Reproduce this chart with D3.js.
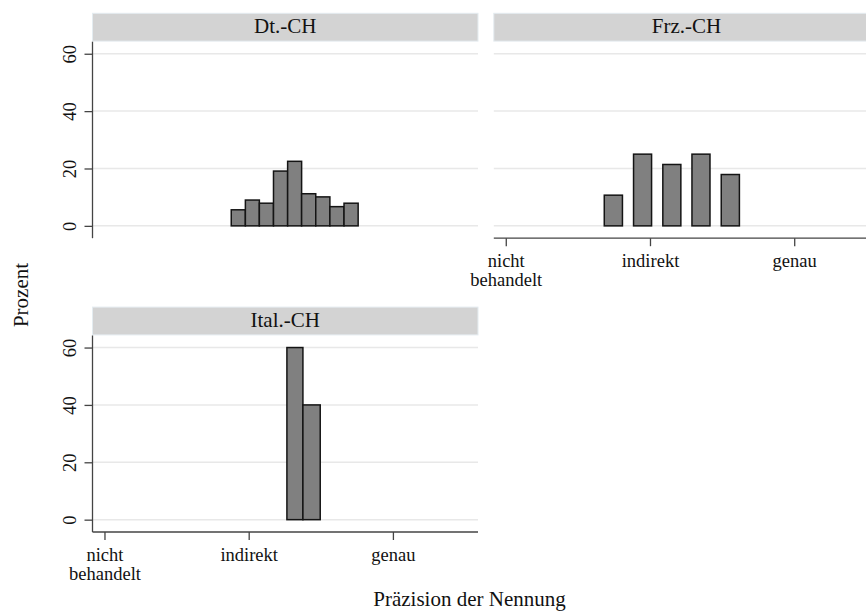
<!DOCTYPE html>
<html>
<head>
<meta charset="utf-8">
<script src="https://cdn.jsdelivr.net/npm/d3@7"></script>
<style>
  html, body { margin: 0; padding: 0; background: #fff; }
  svg { display: block; }
</style>
</head>
<body>
<svg id="chart" width="866" height="616"></svg>
<script>
const FONT = "'Liberation Serif', 'Times New Roman', Times, 'DejaVu Serif', serif";
// ---- data ----
const panels = ["Dt.-CH", "Frz.-CH", "Ital.-CH"];
const xTickValues = [0, 1, 2];
const xTickLabels = [["nicht", "behandelt"], ["indirekt"], ["genau"]];
const yTickValues = [0, 20, 40, 60];

// Dt.-CH: histogram bins (left edge, right edge, percent)
const dtLeft  = [0.879, 0.977, 1.074, 1.172, 1.270, 1.367, 1.465, 1.563, 1.661];
const dtRight = [0.977, 1.074, 1.172, 1.270, 1.367, 1.465, 1.563, 1.661, 1.759];
const dtPct   = [5.6, 9.0, 7.9, 19.1, 22.5, 11.2, 10.1, 6.7, 7.9];

// Frz.-CH: separated bars (left edge, right edge, percent)
const frLeft  = [0.683, 0.886, 1.089, 1.291, 1.494];
const frRight = [0.809, 1.011, 1.214, 1.416, 1.620];
const frPct   = [10.7, 25.0, 21.4, 25.0, 17.9];

// Ital.-CH
const itLeft  = [1.265, 1.376];
const itRight = [1.376, 1.496];
const itPct   = [60, 40];

const panelBars = [
  dtLeft.map((d, i) => ({ x0: d, x1: dtRight[i], v: dtPct[i] })),
  frLeft.map((d, i) => ({ x0: d, x1: frRight[i], v: frPct[i] })),
  itLeft.map((d, i) => ({ x0: d, x1: itRight[i], v: itPct[i] }))
];

// ---- layout ----
const svg = d3.select("#chart").style("font-family", FONT);
const layout = [
  { left: 92.5, top: 41.7, yAxis: true,  xAxis: false },
  { left: 493.8, top: 41.7, yAxis: false, xAxis: true },
  { left: 92.5, top: 335.5, yAxis: true,  xAxis: true }
];
const pw = 385.5, ph = 196.5, stripH = 28.4;

layout.forEach((L, pi) => {
  const x = d3.scaleLinear().domain([-0.083, 2.59]).range([L.left, L.left + pw]);
  const y = d3.scaleLinear().domain([-4.3, 64.2]).range([L.top + ph, L.top]);
  const g = svg.append("g");

  // strip
  g.append("rect")
    .attr("x", L.left).attr("y", L.top - stripH)
    .attr("width", pw).attr("height", stripH - 0.6)
    .attr("fill", "#d3d3d3").attr("stroke", "#e4ecf0").attr("stroke-width", 1);
  g.append("text")
    .attr("x", L.left + pw / 2).attr("y", L.top - 8.3)
    .attr("text-anchor", "middle").attr("font-size", 21)
    .style("font-family", FONT).attr("fill", "#111")
    .text(panels[pi]);

  // gridlines
  g.selectAll("line.grid").data(yTickValues).join("line")
    .attr("x1", L.left).attr("x2", L.left + pw)
    .attr("y1", d => y(d)).attr("y2", d => y(d))
    .attr("stroke", "#e8e8e8").attr("stroke-width", 1.5);

  // bars
  g.selectAll("rect.bar").data(panelBars[pi]).join("rect")
    .attr("x", d => x(d.x0)).attr("width", d => x(d.x1) - x(d.x0))
    .attr("y", d => y(d.v)).attr("height", d => y(0) - y(d.v))
    .attr("fill", "#808080").attr("stroke", "#141414").attr("stroke-width", 1.5);

  // y axis
  if (L.yAxis) {
    const ya = g.append("g").attr("transform", `translate(${L.left},0)`)
      .call(d3.axisLeft(y).tickValues(yTickValues).tickSize(8).tickFormat(d3.format("d")));
    ya.attr("font-family", null);
    ya.select(".domain").attr("stroke", "#444").attr("stroke-width", 1.3)
      .attr("d", `M0,${L.top}V${L.top + ph}`);
    ya.selectAll(".tick line").attr("stroke", "#444").attr("stroke-width", 1.3);
    ya.selectAll(".tick text")
      .attr("font-size", 18.5).style("font-family", FONT)
      .attr("fill", "#111")
      .attr("x", 0).attr("dy", 0)
      .attr("text-anchor", "middle")
      .attr("transform", "translate(-17,0) rotate(-90)");
  }

  // x axis
  if (L.xAxis) {
    const xa = g.append("g").attr("transform", `translate(0,${L.top + ph})`)
      .call(d3.axisBottom(x).tickValues(xTickValues).tickSize(8).tickFormat(""));
    xa.attr("font-family", null);
    xa.select(".domain").attr("stroke", "#444").attr("stroke-width", 1.3)
      .attr("d", `M${L.left},0H${L.left + pw}`);
    xa.selectAll(".tick line").attr("stroke", "#444").attr("stroke-width", 1.3);
    xa.selectAll(".tick").each(function(d, i) {
      const t = d3.select(this).append("text")
        .attr("text-anchor", "middle").attr("font-size", 18.5)
        .style("font-family", FONT).attr("fill", "#111");
      xTickLabels[i].forEach((line, li) => {
        t.append("tspan").attr("x", 0).attr("y", 28.5 + li * 19.5).text(line);
      });
    });
  }
});

// axis titles
svg.append("text")
  .attr("transform", "translate(28,295) rotate(-90)")
  .attr("text-anchor", "middle").attr("font-size", 21)
  .style("font-family", FONT).attr("fill", "#111")
  .text("Prozent");
svg.append("text")
  .attr("x", 469.5).attr("y", 606)
  .attr("text-anchor", "middle").attr("font-size", 21)
  .style("font-family", FONT).attr("fill", "#111")
  .text("Präzision der Nennung");
</script>
</body>
</html>
